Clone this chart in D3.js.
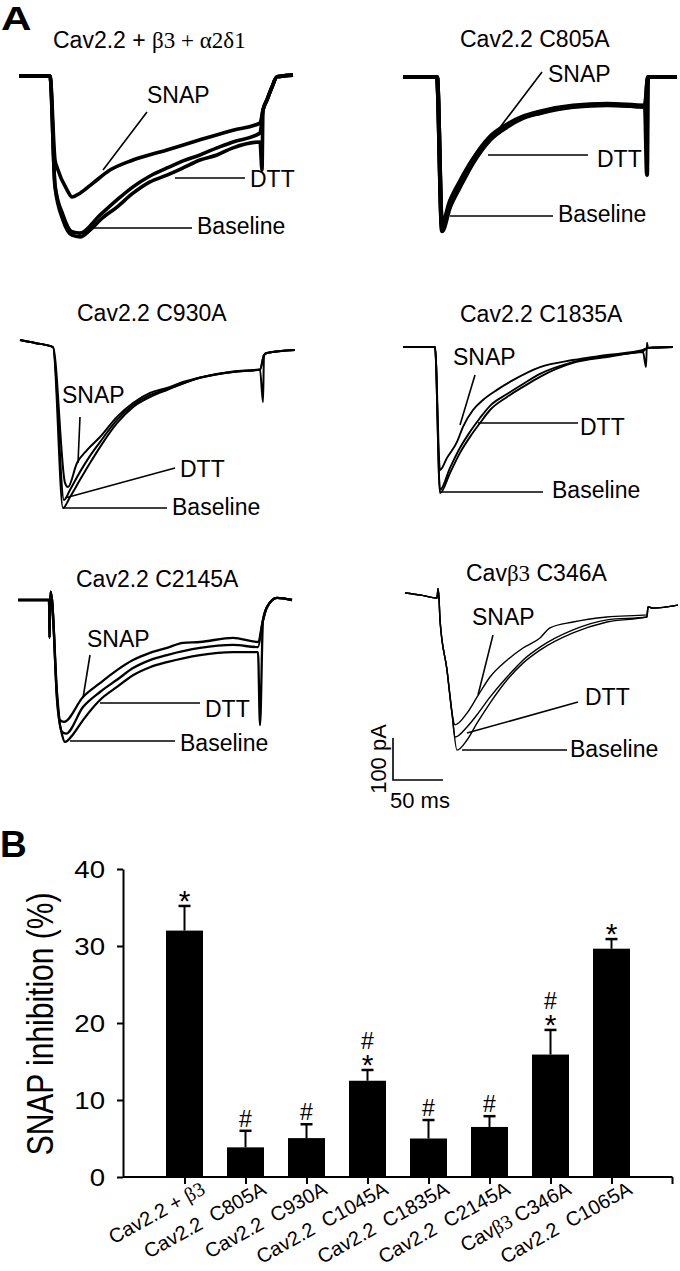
<!DOCTYPE html>
<html><head><meta charset="utf-8">
<script src="https://cdn.jsdelivr.net/npm/d3@7"></script>
<style>
body{margin:0;background:#fff}
svg text{font-family:"Liberation Sans",Arial,Helvetica,sans-serif;fill:#000}
.serif{font-family:"Liberation Serif","Times New Roman",serif}
</style>
</head><body>
<svg id="c" width="680" height="1271"></svg>
<script>
// ---------- Panel A data: current traces, [time ms, current pA] ----------
const panelTitles = ["Cav2.2 + β3 + α2δ1","Cav2.2 C805A","Cav2.2 C930A","Cav2.2 C1835A","Cav2.2 C2145A","Cavβ3 C346A"];
const traceNames = ["SNAP","DTT","Baseline"];

const p1Pre  = [[0,0],[31,0]];
const p1Base = [[36,-264],[44,-343],[53,-379],[61,-383],[71,-367],[81,-343],[98,-312],[114,-279],[131,-252],[148,-236],[164,-219],[181,-200],[198,-188],[214,-171],[241,-157],[243,-224]];
const p1Dtt  = [[36,-260],[44,-331],[53,-371],[61,-374],[81,-331],[98,-295],[114,-264],[131,-238],[148,-219],[164,-202],[181,-188],[198,-171],[214,-157],[241,-136]];
const p1Snap = [[36,-200],[38,-217],[48,-271],[53,-288],[61,-279],[74,-255],[91,-224],[114,-200],[148,-176],[181,-152],[214,-129],[241,-112]];
const p1Post = [[244,-81],[248,-57],[253,-26],[258,-2],[274,2]];

const p2Pre  = [[0,0],[34,0]];
const p2Base = [[39,-367],[47,-310],[57,-262],[70,-205],[87,-150],[104,-119],[120,-98],[137,-86],[170,-71],[204,-67],[242,-71],[244,-233]];
const p2Dtt  = [[39,-360],[47,-302],[57,-255],[70,-200],[87,-146],[104,-116],[120,-96],[137,-84],[170,-70],[204,-66],[242,-70]];
const p2Snap = [[39,-350],[47,-295],[57,-248],[70,-195],[87,-142],[104,-113],[120,-94],[137,-82],[170,-68],[204,-64],[242,-68]];
const p2Post = [[245,0],[274,0]];

const p3Pre  = [[0,0],[15,-7],[33,-17]];
const p3Base = [[43,-400],[50,-374],[60,-333],[70,-293],[80,-255],[97,-198],[113,-160],[130,-136],[147,-119],[180,-90],[213,-76],[240,-71],[243,-148]];
const p3Dtt  = [[44,-381],[50,-357],[60,-314],[70,-276],[80,-243],[97,-190],[113,-155],[130,-131],[147,-117],[180,-90],[213,-76],[240,-71]];
const p3Snap = [[45,-340],[48,-350],[57,-293],[67,-262],[80,-231],[97,-183],[113,-150],[130,-126],[147,-114],[163,-100],[180,-89],[213,-75],[240,-70]];
const p3Post = [[244,-36],[247,-31],[275,-24]];

const p4Pre  = [[0,0],[32,0]];
const p4Base = [[37,-348],[47,-300],[57,-252],[67,-214],[77,-181],[87,-150],[104,-119],[120,-95],[137,-71],[170,-38],[204,-24],[240,-12],[243,-48],[244,10]];
const p4Dtt  = [[37,-340],[47,-288],[57,-240],[67,-202],[77,-169],[87,-140],[104,-112],[120,-88],[137,-64],[170,-36],[204,-21],[240,-10]];
const p4Snap = [[37,-293],[44,-264],[54,-226],[60,-190],[70,-150],[80,-126],[94,-102],[110,-79],[137,-48],[170,-31],[204,-19],[240,-7]];
const p4Post = [[245,-2],[270,0]];

const p5Pre  = [[0,0],[31,0],[31.5,-90],[32.5,20],[34,0]];
const p5Base = [[39,-238],[44,-320],[47,-338],[55,-320],[65,-286],[82,-238],[99,-207],[115,-179],[132,-160],[149,-148],[182,-131],[215,-124],[240,-124],[242,-298]];
const p5Dtt  = [[39,-230],[44,-314],[48,-318],[65,-255],[82,-219],[99,-190],[115,-162],[132,-143],[149,-131],[182,-114],[215,-107],[240,-112]];
const p5Snap = [[39,-220],[42,-286],[46,-290],[65,-231],[82,-198],[99,-167],[115,-143],[132,-126],[149,-114],[165,-102],[182,-100],[215,-90],[240,-100]];
const p5Post = [[245,-48],[249,-17],[259,5],[274,0]];

const p6Pre  = [[0,0],[16,-5],[32,-12],[33,10],[34,-12]];
const p6Base = [[35,-64],[42,-183],[47,-286],[52,-374],[62,-350],[72,-310],[85,-262],[102,-207],[118,-167],[135,-136],[168,-95],[202,-69],[242,-57]];
const p6Dtt  = [[35,-64],[42,-183],[47,-286],[50,-343],[62,-319],[72,-290],[85,-248],[102,-200],[118,-160],[135,-129],[168,-88],[202,-64],[242,-57]];
const p6Snap = [[35,-64],[42,-183],[47,-286],[50,-314],[62,-286],[72,-248],[85,-200],[102,-160],[118,-131],[135,-107],[145,-83],[168,-69],[202,-57],[242,-52]];
const p6Post = [[243,-33],[248,-36],[273,-29]];

const scaleBarPA = 100, scaleBarMs = 50;

// ---------- Panel B data ----------
const categories = ["Cav2.2 + β3","Cav2.2  C805A","Cav2.2  C930A","Cav2.2  C1045A","Cav2.2  C1835A","Cav2.2  C2145A","Cavβ3 C346A","Cav2.2  C1065A"];
const inhibition = [32.0, 3.85, 5.05, 12.5, 5.0, 6.5, 15.9, 29.65];
const semUpper   = [3.2, 2.15, 1.8, 1.4, 2.4, 1.4, 3.2, 1.25];
const starSig    = [1,0,0,1,0,0,1,1];
const hashSig    = [0,1,1,1,1,1,1,0];
const yTicks     = [0,10,20,30,40];
const yLabel     = "SNAP inhibition (%)";

// ---------- layout ----------
const svg = d3.select("#c");
const SANS = '"Liberation Sans",Arial,sans-serif';

function richText(sel, str){
  const parts = str.split(/((?:[αβδ][0-9]*(?:\s\+\s)?)+)/).filter(s=>s.length);
  parts.forEach(p=>{
    const t = sel.append("tspan").text(p);
    if (/[αβδ]/.test(p)) t.attr("class","serif");
  });
  return sel;
}

const pxPerMs = 1, pxPerPA = 0.42;
const panels = [
  {x0:19, y0:76,  pre:p1Pre, post:p1Post, tr:[p1Snap,p1Dtt,p1Base], sw:3.6, tx:53,  ty:48,
   lab:[{t:"SNAP",x:147,y:103,l:[147,112,103,170]},{t:"DTT",x:250,y:187,l:[175,178,245,178]},{t:"Baseline",x:197,y:234,l:[90,228,192,228]}]},
  {x0:403,y0:77,  pre:p2Pre, post:p2Post, tr:[p2Snap,p2Dtt,p2Base], sw:4.2, tx:460, ty:47,
   lab:[{t:"SNAP",x:548,y:82,l:[542,72,498,130]},{t:"DTT",x:597,y:167,l:[488,155,588,155]},{t:"Baseline",x:558,y:222,l:[450,216,553,216]}]},
  {x0:20, y0:340, pre:p3Pre, post:p3Post, tr:[p3Snap,p3Dtt,p3Base], sw:2.0, tx:77,  ty:321,
   lab:[{t:"SNAP",x:62,y:403,l:[80,417,78,463]},{t:"DTT",x:180,y:477,l:[175,468,65,498]},{t:"Baseline",x:172,y:515,l:[63,508,167,508]}]},
  {x0:403,y0:347, pre:p4Pre, post:p4Post, tr:[p4Snap,p4Dtt,p4Base], sw:1.9, tx:460, ty:322,
   lab:[{t:"SNAP",x:453,y:365,l:[475,375,460,425]},{t:"DTT",x:580,y:435,l:[478,423,578,423]},{t:"Baseline",x:552,y:498,l:[440,492,543,492]}]},
  {x0:18, y0:600, pre:p5Pre, post:p5Post, tr:[p5Snap,p5Dtt,p5Base], sw:2.3, tx:76,  ty:587,
   lab:[{t:"SNAP",x:87,y:647,l:[90,655,83,698]},{t:"DTT",x:205,y:717,l:[100,703,200,703]},{t:"Baseline",x:180,y:751,l:[70,741,175,741]}]},
  {x0:405,y0:593, pre:p6Pre, post:p6Post, tr:[p6Snap,p6Dtt,p6Base], sw:1.4, tx:466, ty:581,
   lab:[{t:"SNAP",x:472,y:625,l:[493,635,478,695]},{t:"DTT",x:585,y:705,l:[578,702,467,733]},{t:"Baseline",x:570,y:757,l:[462,750,567,750]}]}
];

svg.append("text").attr("transform","translate(1,30) scale(1.28,1)")
  .style("font-size","33px").style("font-weight","bold").text("A");

panels.forEach((p,i)=>{
  const x = d3.scaleLinear().domain([0,1]).range([p.x0, p.x0+pxPerMs]);
  const y = d3.scaleLinear().domain([0,-100]).range([p.y0, p.y0+100*pxPerPA]);
  const line = d3.line().x(d=>x(d[0])).y(d=>y(d[1])).curve(d3.curveMonotoneX);
  const g = svg.append("g");
  p.tr.forEach(tr=>{
    g.append("path").attr("d", line(p.pre.concat(tr, p.post)))
      .attr("fill","none").attr("stroke","#000").attr("stroke-width",p.sw)
      .attr("stroke-linejoin","round");
  });
  richText(g.append("text").attr("x",p.tx).attr("y",p.ty).style("font-size","23px"), panelTitles[i]);
  p.lab.forEach(a=>{
    g.append("line").attr("x1",a.l[0]).attr("y1",a.l[1]).attr("x2",a.l[2]).attr("y2",a.l[3])
      .attr("stroke","#000").attr("stroke-width",1.6);
    g.append("text").attr("x",a.x).attr("y",a.y).style("font-size","23px").text(a.t);
  });
});

{
  const sbx = 393, sby = 780;
  const w = scaleBarMs*pxPerMs, h = scaleBarPA*pxPerPA;
  svg.append("path").attr("d",`M${sbx},${sby-h}V${sby}H${sbx+w}`)
    .attr("fill","none").attr("stroke","#000").attr("stroke-width",1.6);
  svg.append("text").attr("transform",`translate(386,${sby-h/2}) rotate(-90)`)
    .attr("text-anchor","middle").style("font-size","22px").text(scaleBarPA+" pA");
  svg.append("text").attr("x",390).attr("y",808).style("font-size","22px").text(scaleBarMs+" ms");
}

// ---------- Panel B ----------
svg.append("text").attr("x",0).attr("y",857).style("font-size","37px").style("font-weight","bold").text("B");

const yB = d3.scaleLinear().domain([0,40]).range([1177,869]);
const xB = d3.scalePoint().domain(categories).range([184.5,611.5]);
const bw = 37;

const yAxis = svg.append("g").attr("transform","translate(123,0)")
  .call(d3.axisLeft(yB).tickValues(yTicks).tickSize(6).tickSizeOuter(0).tickFormat(d3.format("d")));
yAxis.select(".domain").attr("stroke-width",2);
yAxis.selectAll(".tick line").attr("stroke-width",2);
yAxis.selectAll(".tick text").attr("x",-15).attr("dy","0.36em")
  .attr("transform","scale(1.2,1)")
  .style("font-size","23px").style("font-family",SANS).attr("fill","#000");

svg.append("text").attr("transform","translate(53,1024) scale(1.25,1) rotate(-90)")
  .attr("text-anchor","middle").style("font-size","30px").text(yLabel);

const xAxis = svg.append("g").attr("transform","translate(0,1177)")
  .call(d3.axisBottom(xB).tickSize(7).tickSizeOuter(0).tickFormat(""));
xAxis.select(".domain").remove();
xAxis.selectAll(".tick line").attr("stroke-width",2);
const step = xB.step();
const xEnd = xB(categories[categories.length-1])+step;
svg.append("line").attr("x1",123).attr("x2",xEnd).attr("y1",1177).attr("y2",1177).attr("stroke","#000").attr("stroke-width",2);
svg.append("line").attr("x1",xEnd).attr("x2",xEnd).attr("y1",1177).attr("y2",1184).attr("stroke","#000").attr("stroke-width",2);

const bars = svg.append("g");
const labG = svg.append("g");
categories.forEach((c,i)=>{
  const cx = xB(c), v = inhibition[i], e = semUpper[i];
  bars.append("rect").attr("x",cx-bw/2).attr("y",yB(v)).attr("width",bw).attr("height",yB(0)-yB(v)).attr("fill","#000");
  bars.append("line").attr("x1",cx).attr("x2",cx).attr("y1",yB(v)).attr("y2",yB(v+e)).attr("stroke","#000").attr("stroke-width",2);
  bars.append("line").attr("x1",cx-6).attr("x2",cx+6).attr("y1",yB(v+e)).attr("y2",yB(v+e)).attr("stroke","#000").attr("stroke-width",2.5);
  const cap = yB(v+e);
  if (starSig[i]) {
    const sb = cap+5;
    bars.append("text").attr("x",cx).attr("y",sb).attr("text-anchor","middle").style("font-size","30px").text("*");
    if (hashSig[i]) bars.append("text").attr("x",cx).attr("y",sb-26).attr("text-anchor","middle").style("font-size","23px").text("#");
  } else if (hashSig[i]) {
    bars.append("text").attr("x",cx).attr("y",cap-4).attr("text-anchor","middle").style("font-size","23px").text("#");
  }
  const t = labG.append("text").attr("transform",`translate(${cx+22},1193) rotate(-29)`)
    .attr("text-anchor","end").style("font-size","20px").style("white-space","pre");
  richText(t, c);
});
</script>
</body></html>
